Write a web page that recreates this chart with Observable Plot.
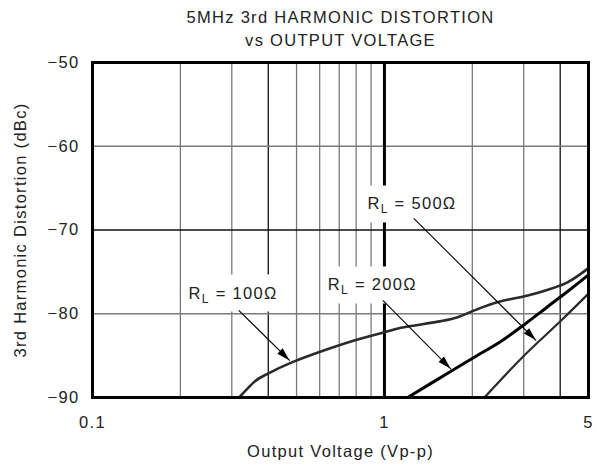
<!DOCTYPE html>
<html><head><meta charset="utf-8">
<script src="https://cdn.jsdelivr.net/npm/d3@7"></script>
<script src="https://cdn.jsdelivr.net/npm/@observablehq/plot@0.6"></script>
<style>body{margin:0;background:#fff;} svg{display:block}</style>
</head><body><div id="chart"></div>
<script>
// ---- texts ----
const title1 = "5MHz 3rd HARMONIC DISTORTION";
const title2 = "vs OUTPUT VOLTAGE";
const xLabel = "Output Voltage (Vp-p)";
const yLabel = "3rd Harmonic Distortion (dBc)";

// ---- ticks & grid ----
const xTicks = [0.1, 1, 5];
const yTicks = [-90, -80, -70, -60, -50];
const xGridMinor = [0.2, 0.3, 0.5, 0.6, 0.7, 0.8, 0.9, 2, 3];
const xGridDark = [0.4, 4];
const xGridMajor = [1];
const yGridMinor = [-60, -80];
const yGridDark = [-70];

// ---- series ----
const rl100X = [0.318, 0.335, 0.362, 0.3975, 0.484, 0.63, 0.788, 1.0, 1.139, 1.563, 1.783, 2.033, 2.445, 3.099, 3.63, 4.25, 5.0];
const rl100Y = [-90, -89.16, -88.0, -87.17, -85.78, -84.3, -83.19, -82.2, -81.68, -80.88, -80.41, -79.6, -78.6, -77.82, -77.13, -76.22, -74.55];
const rl200X = [1.201, 1.691, 2.033, 2.51, 3.017, 3.63, 4.25, 5.0];
const rl200Y = [-90, -86.86, -85.19, -83.28, -81.28, -79.13, -77.31, -75.35];
const rl500X = [2.2, 3.017, 4.03, 5.0];
const rl500Y = [-90, -84.95, -80.81, -77.6];

// ---- annotations ----
const labelValues = ["100Ω", "200Ω", "500Ω"];
const labelX = [0.303, 0.909, 1.243];
const labelY = [-78.18, -77.22, -67.55];
const arrowX1 = [0.317, 0.988, 1.26];
const arrowY1 = [-79.6, -78.4, -68.6];
const arrowX2 = [0.474, 1.69, 3.31];
const arrowY2 = [-85.6, -86.6, -83.2];

const toPts = (X, Y) => X.map((x, i) => ({x, y: Y[i]}));
const labels = labelValues.map((v, i) => ({t: "RL = " + v, x: labelX[i], y: labelY[i]}));
const arrows = arrowX1.map((_, i) => ({x1: arrowX1[i], y1: arrowY1[i], x2: arrowX2[i], y2: arrowY2[i]}));

const FS = 16.5;
const plot = Plot.plot({
  width: 597,
  height: 468,
  marginLeft: 92,
  marginRight: 9,
  marginTop: 62,
  marginBottom: 71,
  style: "font-family: 'Liberation Sans', Arial, sans-serif; font-size: 16.5px; letter-spacing: 1.3px; color: #222; background: #fff; overflow: visible;",
  x: {type: "log", domain: [0.1, 5]},
  y: {domain: [-90, -50]},
  marks: [
    Plot.ruleX(xGridMinor, {stroke: "#7a7a7a", strokeWidth: 1.3}),
    Plot.ruleX(xGridDark, {stroke: "#111", strokeWidth: 1.3}),
    Plot.ruleY(yGridMinor, {stroke: "#7a7a7a", strokeWidth: 1.3}),
    Plot.ruleY(yGridDark, {stroke: "#111", strokeWidth: 1.5}),
    Plot.ruleX(xGridMajor, {stroke: "#000", strokeWidth: 3}),
    Plot.line(toPts(rl100X, rl100Y), {x: "x", y: "y", stroke: "#2a2a2a", strokeWidth: 2.6, curve: "catmull-rom"}),
    Plot.line(toPts(rl200X, rl200Y), {x: "x", y: "y", stroke: "#000", strokeWidth: 3, curve: "catmull-rom"}),
    Plot.line(toPts(rl500X, rl500Y), {x: "x", y: "y", stroke: "#2a2a2a", strokeWidth: 2.2, curve: "catmull-rom"}),
    Plot.text(labels, {x: "x", y: "y", text: "t", textAnchor: "middle", lineAnchor: "bottom", fill: "#222", fontSize: FS}),
    Plot.link(arrows, {x1: "x1", y1: "y1", x2: "x2", y2: "y2", stroke: "#000", strokeWidth: 1.1}),
    Plot.frame({stroke: "#000", strokeWidth: 3}),
    Plot.axisX({ticks: xTicks, tickSize: 0, tickPadding: 19, fontSize: FS, fill: "#222", tickFormat: d => String(d), label: null}),
    Plot.axisY({ticks: yTicks, tickSize: 0, tickPadding: 13, fontSize: FS, fill: "#222", tickFormat: d => d < 0 ? "\u2212" + (-d) : String(d), label: null}),
    Plot.text([title1], {frameAnchor: "top", dy: -40, lineAnchor: "bottom", fill: "#222", fontSize: FS}),
    Plot.text([title2], {frameAnchor: "top", dy: -17, lineAnchor: "bottom", fill: "#222", fontSize: FS}),
    Plot.text([xLabel], {frameAnchor: "bottom", dy: 59, lineAnchor: "bottom", fill: "#222", fontSize: FS}),
    Plot.text([yLabel], {frameAnchor: "left", dx: -67, rotate: -90, textAnchor: "middle", lineAnchor: "bottom", fill: "#222", fontSize: FS})
  ]
});
document.getElementById("chart").append(plot);

// scales for annotation post-processing
const xs = plot.scale("x"), ys = plot.scale("y");
const sx = d3.scaleLog(xs.domain, xs.range);
const sy = d3.scaleLinear(ys.domain, ys.range);
const svg = d3.select(plot);

// subscripted labels with white boxes
svg.selectAll("text")
  .filter(function() { return this.textContent.startsWith("RL = "); })
  .each(function() {
    const t = d3.select(this);
    const rest = this.textContent.slice(2);
    t.text(null);
    t.append("tspan").text("R");
    t.append("tspan").attr("font-size", 12).attr("dy", 4).text("L");
    t.append("tspan").attr("dy", -4).text(rest);
    const bb = this.getBBox();
    d3.select(this.parentNode).insert("rect", () => this)
      .attr("transform", t.attr("transform"))
      .attr("x", bb.x - 5).attr("y", bb.y - 9)
      .attr("width", bb.width + 8).attr("height", bb.height + 15)
      .attr("fill", "#fff");
  });

// filled arrowheads
arrows.forEach(a => {
  const x1 = sx(a.x1), y1 = sy(a.y1), x2 = sx(a.x2), y2 = sy(a.y2);
  const ang = Math.atan2(y2 - y1, x2 - x1);
  const L = 13, W = 3.8;
  const bx = x2 - L * Math.cos(ang), by = y2 - L * Math.sin(ang);
  const pts = [[x2, y2], [bx + W * Math.sin(ang), by - W * Math.cos(ang)], [bx - W * Math.sin(ang), by + W * Math.cos(ang)]];
  svg.append("polygon").attr("points", pts.map(p => p.join(",")).join(" ")).attr("fill", "#000");
});
</script>
</body></html>
